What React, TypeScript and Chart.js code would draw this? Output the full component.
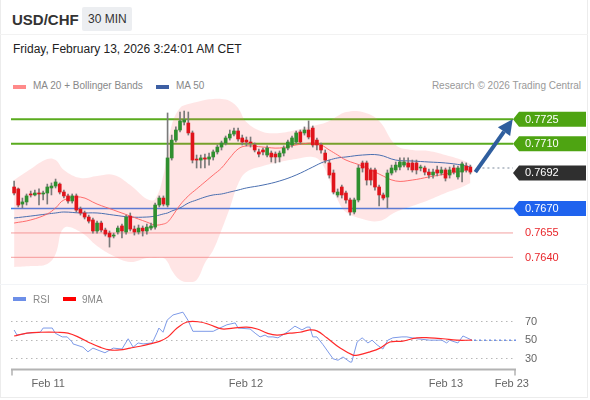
import React, { useEffect, useRef } from "react";
import { Chart, registerables } from "chart.js";

Chart.register(...registerables);

const FONT = "'Liberation Sans', Arial, Helvetica, sans-serif";

// ---- 30-min candles (USD/CHF), index 0 = Feb 10 20:00 ----
const candleOpen = [
  0.76833, 0.76821, 0.76728, 0.76741, 0.7679, 0.76784, 0.76796, 0.7679, 0.76796, 0.76827,
  0.76839, 0.76851, 0.76802, 0.76778, 0.76747, 0.76778, 0.76697, 0.76673, 0.76648, 0.7663,
  0.76562, 0.76611, 0.76568, 0.76549, 0.76531, 0.76556, 0.76593, 0.76556, 0.76654, 0.76574,
  0.76556, 0.7658, 0.76562, 0.7658, 0.76586, 0.76722, 0.76765, 0.76722, 0.77012, 0.77122,
  0.77184, 0.77233, 0.77227, 0.77166, 0.77005, 0.76999, 0.77012, 0.77005, 0.77018, 0.77049,
  0.77079, 0.77104, 0.77135, 0.77159, 0.77178, 0.77135, 0.77122, 0.7711, 0.77092, 0.77049,
  0.77061, 0.7703, 0.77042, 0.77036, 0.77018, 0.77042, 0.77073, 0.77092, 0.7711, 0.77172,
  0.77166, 0.77184, 0.77196, 0.77122, 0.77092, 0.77042, 0.76981, 0.76919, 0.76784, 0.76833,
  0.76796, 0.76753, 0.76679, 0.76753, 0.76981, 0.76981, 0.76938, 0.76938, 0.76833, 0.76784,
  0.76771, 0.76919, 0.76938, 0.76956, 0.76968, 0.76981, 0.76981, 0.76981, 0.7695, 0.7695,
  0.76925, 0.76907, 0.76938, 0.76919, 0.76938, 0.76907, 0.7695, 0.76895, 0.76925, 0.76962,
  0.76956,
];
const candleHigh = [
  0.7687, 0.76827, 0.76765, 0.7679, 0.76808, 0.76814, 0.76821, 0.76808, 0.76851, 0.76858,
  0.76882, 0.76858, 0.76814, 0.7679, 0.7679, 0.7679, 0.7671, 0.76685, 0.7666, 0.76642,
  0.76623, 0.76623, 0.7658, 0.76562, 0.76549, 0.76593, 0.76605, 0.7666, 0.76673, 0.76593,
  0.76599, 0.76593, 0.76605, 0.76611, 0.76734, 0.76778, 0.76778, 0.77289, 0.77153, 0.77203,
  0.77295, 0.77301, 0.77295, 0.77178, 0.7703, 0.7703, 0.77036, 0.77042, 0.77061, 0.77092,
  0.77116, 0.77147, 0.77184, 0.77196, 0.77196, 0.77153, 0.77141, 0.77141, 0.77104, 0.77067,
  0.77073, 0.77086, 0.77055, 0.77049, 0.77055, 0.77086, 0.77122, 0.77147, 0.77178, 0.77184,
  0.77203, 0.7724, 0.77209, 0.77135, 0.77104, 0.77061, 0.76999, 0.76938, 0.76821, 0.76845,
  0.76808, 0.76765, 0.76765, 0.76968, 0.76993, 0.76993, 0.7695, 0.7695, 0.76845, 0.76796,
  0.76938, 0.76968, 0.76987, 0.77012, 0.77012, 0.77012, 0.76999, 0.76999, 0.76968, 0.76962,
  0.76944, 0.76944, 0.76962, 0.76956, 0.7695, 0.76956, 0.76968, 0.76962, 0.76987, 0.76981,
  0.76968,
];
const candleLow = [
  0.76784, 0.7671, 0.76704, 0.76722, 0.76771, 0.76778, 0.76722, 0.76753, 0.76728, 0.76784,
  0.76827, 0.7679, 0.76765, 0.76734, 0.76734, 0.76679, 0.7666, 0.76636, 0.76611, 0.76549,
  0.76549, 0.76556, 0.76531, 0.76463, 0.76519, 0.76543, 0.76519, 0.76543, 0.76562, 0.76537,
  0.76543, 0.76531, 0.76543, 0.76568, 0.76574, 0.7671, 0.76716, 0.7671, 0.76999, 0.7711,
  0.77172, 0.77215, 0.77153, 0.76981, 0.7695, 0.7695, 0.7695, 0.76968, 0.76999, 0.77036,
  0.77061, 0.77092, 0.77122, 0.77147, 0.77116, 0.77092, 0.77086, 0.77079, 0.77049, 0.77018,
  0.7703, 0.77018, 0.76987, 0.76981, 0.76987, 0.77024, 0.77061, 0.77079, 0.77098, 0.77098,
  0.77153, 0.77129, 0.77079, 0.77061, 0.77042, 0.76981, 0.76888, 0.7679, 0.76771, 0.76765,
  0.76734, 0.7666, 0.76667, 0.76741, 0.76925, 0.76845, 0.76845, 0.76814, 0.76716, 0.76753,
  0.76704, 0.76907, 0.76925, 0.76938, 0.76956, 0.76938, 0.76925, 0.76913, 0.76932, 0.76907,
  0.76888, 0.76888, 0.76901, 0.76907, 0.7687, 0.76888, 0.76913, 0.76882, 0.76864, 0.76925,
  0.76913,
];
const candleClose = [
  0.76796, 0.76722, 0.76741, 0.76778, 0.76784, 0.76796, 0.7679, 0.76796, 0.76833, 0.76839,
  0.76864, 0.76802, 0.76778, 0.76747, 0.76778, 0.76691, 0.76673, 0.76648, 0.76623, 0.76562,
  0.76611, 0.76568, 0.76543, 0.76525, 0.76537, 0.7658, 0.76562, 0.76648, 0.76574, 0.76556,
  0.7658, 0.76562, 0.76586, 0.76593, 0.76722, 0.76765, 0.76728, 0.77012, 0.77122, 0.77184,
  0.7724, 0.77246, 0.77166, 0.76999, 0.76999, 0.77012, 0.77005, 0.77018, 0.77049, 0.77079,
  0.77104, 0.77135, 0.77159, 0.77178, 0.77129, 0.7711, 0.7711, 0.77104, 0.77061, 0.77036,
  0.77049, 0.77073, 0.77018, 0.77018, 0.77042, 0.77073, 0.7711, 0.77135, 0.77166, 0.7711,
  0.77184, 0.77141, 0.77092, 0.77092, 0.77061, 0.76999, 0.76907, 0.76802, 0.76802, 0.76784,
  0.76753, 0.76679, 0.76753, 0.7695, 0.7695, 0.76876, 0.76876, 0.76833, 0.76784, 0.76765,
  0.76919, 0.7695, 0.76968, 0.76987, 0.76987, 0.76956, 0.76938, 0.76938, 0.7695, 0.76925,
  0.76907, 0.76925, 0.76919, 0.76938, 0.76888, 0.76938, 0.76925, 0.7695, 0.76975, 0.76938,
  0.76925,
];

// ---- indicators (read at these candle positions) ----
const bandIndex = [0, 4, 8, 10, 12, 16, 20, 24, 28, 32, 34, 36, 37, 38, 40, 42, 44, 46, 48, 50, 52, 54, 56, 60, 64, 68, 72, 74, 76, 78, 80, 84, 88, 92, 96, 100, 104, 108, 110];
const bandUpper = [
  0.76876, 0.76944, 0.77005, 0.76999, 0.76938, 0.76888, 0.76901, 0.76907, 0.76845, 0.76759,
  0.76759, 0.76907, 0.77061, 0.77215, 0.7732, 0.77344, 0.77357, 0.77369, 0.77375, 0.77375,
  0.77363, 0.7732, 0.77233, 0.77172, 0.77166, 0.77184, 0.77209, 0.77221, 0.7724, 0.7727,
  0.77295, 0.77295, 0.7724, 0.77092, 0.77061, 0.77055, 0.7703, 0.76999, 0.76975,
];
const bandLower = [
  0.7634, 0.76346, 0.76359, 0.7642, 0.7658, 0.76556, 0.7647, 0.76408, 0.76371, 0.76396,
  0.76396, 0.76396, 0.76371, 0.76321, 0.7626, 0.76248, 0.7626, 0.76365, 0.76445, 0.76568,
  0.76704, 0.76851, 0.76925, 0.76962, 0.76987, 0.77005, 0.77018, 0.76987, 0.76876, 0.76753,
  0.76679, 0.76636, 0.76623, 0.76679, 0.76716, 0.76753, 0.76796, 0.76833, 0.76858,
];
const ma20 = [
  0.76611, 0.7663, 0.76667, 0.76704, 0.76753, 0.76771, 0.76728, 0.76691, 0.76654, 0.76617,
  0.76599, 0.76605, 0.76617, 0.76648, 0.76722, 0.76778, 0.76821, 0.76864, 0.76907, 0.7695,
  0.77012, 0.77067, 0.77086, 0.77079, 0.77073, 0.77092, 0.77104, 0.77092, 0.77061, 0.7703,
  0.76999, 0.76962, 0.76913, 0.7687, 0.76876, 0.76895, 0.76913, 0.76932, 0.76938,
];
const ma50 = [
  0.76642, 0.76654, 0.76667, 0.76673, 0.76679, 0.76673, 0.76673, 0.7666, 0.76648, 0.76648,
  0.76654, 0.76667, 0.76673, 0.76685, 0.76704, 0.76734, 0.76753, 0.76771, 0.76784, 0.7679,
  0.76802, 0.76814, 0.76827, 0.76845, 0.7687, 0.76907, 0.76956, 0.76981, 0.76999, 0.77012,
  0.77018, 0.7703, 0.7703, 0.76999, 0.76993, 0.76987, 0.76981, 0.76968, 0.76956,
];

// ---- RSI panel ----
const rsiIndex = [0, 0.7, 2.2, 3.1, 6.3, 7, 9.2, 9.9, 11.6, 12.8, 14, 14.2, 16.6, 17.8, 19, 20.7, 21.9, 23.9, 26, 27.5, 28.7, 29.9, 31.1, 33.3, 34.5, 34.9, 35.9, 36.9, 38.3, 40.7, 41.9, 43.1, 48, 49.6, 51.3, 53.3, 54, 56.9, 58.1, 59.3, 60.5, 61.2, 62.4, 63.6, 65.8, 67.7, 69.4, 70.6, 71.3, 72, 73, 74.5, 76.9, 78.1, 79.3, 81, 81.4, 82.7, 83.9, 85.3, 86.3, 87.5, 88.9, 90.1, 91.3, 93.5, 94.7, 97.1, 100.2, 103.1, 104.3, 105, 107, 108.2, 110.4];
const rsiValue = [60.4, 55, 56, 57, 58, 62.5, 62.5, 57, 53, 53, 47.5, 45.5, 42, 37, 41, 38, 36, 41, 40, 51, 42, 46.5, 45.5, 46.5, 58, 62.5, 58, 71, 76.5, 79.5, 71, 59, 59, 62.5, 66, 68, 62.5, 61.5, 57, 53, 55, 53, 53, 52, 58, 64.5, 60.5, 63.5, 63.5, 53, 53, 44.5, 29.5, 28, 31.5, 26, 26, 47.5, 52, 46.5, 49.5, 44.5, 40, 49.5, 52, 53, 53, 51, 49.5, 49.5, 46.5, 49.5, 46.5, 54, 49.5];
const rsiMaIndex = [0, 3.1, 6.3, 10.4, 13, 15.9, 18.3, 20.7, 23.1, 25.5, 28, 30.4, 32.8, 35.2, 37.1, 39.3, 41.7, 44.8, 47.2, 50.1, 52.8, 56.1, 58.6, 61, 63.4, 66.5, 68.9, 71.3, 73, 75.4, 78.6, 81.7, 82.9, 85.8, 88.2, 90.6, 93.7, 97.1, 100.2, 103.4, 106.7, 110.4];
const rsiMaValue = [54, 57, 58, 58, 57, 52, 46.5, 42, 39, 39, 41, 43, 45.5, 48.5, 53, 62.5, 69, 69, 66, 61.5, 62.5, 63.5, 61.5, 57, 55, 57, 58, 60.5, 59.5, 52, 41, 33.5, 33.5, 37, 41, 47.5, 48.5, 52, 52, 51, 49.5, 49.5];
const rsiGrid = [70, 50, 30];

// ---- levels / annotations ----
const levelValues = [0.7725, 0.771, 0.7692, 0.767, 0.7655, 0.764];
const levelLabels = ["0.7725", "0.7710", "0.7692", "0.7670", "0.7655", "0.7640"];
const levelKinds = ["resistance", "resistance", "last", "pivot", "support", "support"];
const lastPrice = 0.7695;
const arrowFrom = { index: 111.2, price: 0.76925 };
const arrowTo = { index: 120.2, price: 0.7725 };

// ---- x axis ----
const xTickIndex = [8.2, 55.9, 104.1, 120];
const xTickLabels = ["Feb 11", "Feb 12", "Feb 13", "Feb 23"];

const X_MIN = -0.75;
const X_MAX = 121;

const GREEN = "#2f8f2f";
const RED = "#e0141b";

function drawTag(ctx: CanvasRenderingContext2D, tipX: number, right: number, yc: number, color: string, text: string) {
  const h = 7.5;
  ctx.save();
  ctx.fillStyle = color;
  ctx.beginPath();
  ctx.moveTo(tipX, yc);
  ctx.lineTo(tipX + 6, yc - h);
  ctx.lineTo(right, yc - h);
  ctx.lineTo(right, yc + h);
  ctx.lineTo(tipX + 6, yc + h);
  ctx.closePath();
  ctx.fill();
  ctx.fillStyle = "#ffffff";
  ctx.font = `11px ${FONT}`;
  ctx.textBaseline = "middle";
  ctx.textAlign = "left";
  ctx.fillText(text, tipX + 12, yc + 0.5);
  ctx.restore();
}

const pricePlugin = {
  id: "priceDecor",
  beforeDatasetsDraw(chart: any) {
    const { ctx, chartArea, scales } = chart;
    const y = scales.y;
    const x0 = chartArea.left;
    const x1 = chartArea.right - 3;
    levelValues.forEach((v, k) => {
      const kind = levelKinds[k];
      if (kind === "last") return;
      const py = y.getPixelForValue(v);
      ctx.save();
      if (kind === "resistance") {
        ctx.strokeStyle = "#5aab1e";
        ctx.lineWidth = 2;
      } else if (kind === "pivot") {
        ctx.strokeStyle = "#3b7de8";
        ctx.lineWidth = 1.5;
      } else {
        ctx.strokeStyle = "#f3a0a0";
        ctx.lineWidth = 1;
      }
      ctx.beginPath();
      ctx.moveTo(x0, py);
      ctx.lineTo(x1, py);
      ctx.stroke();
      ctx.restore();
    });
  },
  afterDatasetsDraw(chart: any) {
    const { ctx, chartArea, scales } = chart;
    const x = scales.x;
    const y = scales.y;
    const tipX = chartArea.right - 3;
    const right = chart.width - 4;

    // dotted current price
    const lp = y.getPixelForValue(lastPrice);
    ctx.save();
    ctx.strokeStyle = "#7d8a9c";
    ctx.lineWidth = 1.2;
    ctx.setLineDash([2, 3]);
    ctx.beginPath();
    ctx.moveTo(x.getPixelForValue(candleClose.length + 0.7), lp);
    ctx.lineTo(tipX, lp);
    ctx.stroke();
    ctx.restore();

    // arrow
    const ax0 = x.getPixelForValue(arrowFrom.index);
    const ay0 = y.getPixelForValue(arrowFrom.price);
    const ax1 = x.getPixelForValue(arrowTo.index);
    const ay1 = y.getPixelForValue(arrowTo.price);
    const ang = Math.atan2(ay1 - ay0, ax1 - ax0);
    const headLen = 15;
    const headW = 7.5;
    const bx = ax1 - headLen * Math.cos(ang);
    const by = ay1 - headLen * Math.sin(ang);
    ctx.save();
    ctx.strokeStyle = "#2f5e9e";
    ctx.fillStyle = "#2f5e9e";
    ctx.lineWidth = 4;
    ctx.lineCap = "butt";
    ctx.beginPath();
    ctx.moveTo(ax0, ay0);
    ctx.lineTo(bx, by);
    ctx.stroke();
    ctx.beginPath();
    ctx.moveTo(ax1, ay1);
    ctx.lineTo(bx + headW * Math.sin(ang), by - headW * Math.cos(ang));
    ctx.lineTo(bx - headW * Math.sin(ang), by + headW * Math.cos(ang));
    ctx.closePath();
    ctx.fill();
    ctx.restore();

    // tags and labels
    levelValues.forEach((v, k) => {
      const kind = levelKinds[k];
      const py = y.getPixelForValue(v);
      if (kind === "resistance") drawTag(ctx, tipX, right, py, "#4ea412", levelLabels[k]);
      else if (kind === "last") drawTag(ctx, tipX, right, py, "#2f2f2f", levelLabels[k]);
      else if (kind === "pivot") drawTag(ctx, tipX, right, py, "#1f63ee", levelLabels[k]);
      else {
        ctx.save();
        ctx.fillStyle = "#e8262b";
        ctx.font = `11px ${FONT}`;
        ctx.textBaseline = "middle";
        ctx.textAlign = "left";
        ctx.fillText(levelLabels[k], tipX + 12, py + 0.5);
        ctx.restore();
      }
    });
  },
};

const rsiPlugin = {
  id: "rsiDecor",
  beforeDatasetsDraw(chart: any) {
    const { ctx, chartArea, scales } = chart;
    const y = scales.y;
    ctx.save();
    ctx.strokeStyle = "#b8b8b8";
    ctx.lineWidth = 1;
    ctx.setLineDash([1.5, 3.5]);
    rsiGrid.forEach((g) => {
      const py = Math.round(y.getPixelForValue(g)) + 0.5;
      ctx.beginPath();
      ctx.moveTo(chartArea.left, py);
      ctx.lineTo(chartArea.right, py);
      ctx.stroke();
    });
    ctx.setLineDash([]);
    ctx.fillStyle = "#666";
    ctx.font = `11px ${FONT}`;
    ctx.textBaseline = "middle";
    ctx.textAlign = "left";
    rsiGrid.forEach((g) => {
      ctx.fillText(String(g), chartArea.right + 9, y.getPixelForValue(g) + 0.5);
    });
    ctx.restore();
  },
  afterDatasetsDraw(chart: any) {
    const { ctx, chartArea, scales } = chart;
    const x = scales.x;
    const y = scales.y;
    // dotted extension of RSI
    const lastI = rsiIndex[rsiIndex.length - 1];
    const lastV = rsiValue[rsiValue.length - 1];
    ctx.save();
    ctx.strokeStyle = "#6f8fe6";
    ctx.lineWidth = 1.5;
    ctx.setLineDash([2, 3]);
    ctx.beginPath();
    ctx.moveTo(x.getPixelForValue(lastI) + 2, y.getPixelForValue(lastV));
    ctx.lineTo(chartArea.right, y.getPixelForValue(lastV));
    ctx.stroke();
    ctx.restore();

    // x axis
    const ay = chartArea.bottom - 0.5;
    ctx.save();
    ctx.strokeStyle = "#b3b3b3";
    ctx.lineWidth = 2;
    ctx.beginPath();
    ctx.moveTo(chartArea.left, ay);
    ctx.lineTo(chartArea.right, ay);
    ctx.stroke();
    ctx.lineWidth = 1.5;
    ctx.beginPath();
    ctx.moveTo(chartArea.left + 1, ay);
    ctx.lineTo(chartArea.left + 1, ay + 6);
    ctx.moveTo(chartArea.right - 1, ay);
    ctx.lineTo(chartArea.right - 1, ay + 6);
    ctx.stroke();
    ctx.fillStyle = "#666";
    ctx.font = `11px ${FONT}`;
    ctx.textAlign = "center";
    ctx.textBaseline = "alphabetic";
    xTickIndex.forEach((t, k) => {
      ctx.fillText(xTickLabels[k], x.getPixelForValue(t), ay + 17.5);
    });
    ctx.restore();
  },
};

function Txt(props: { x: number; base: number; size: number; color: string; bold?: boolean; right?: boolean; children: any }) {
  const top = props.base - 0.8465 * props.size;
  const style: any = {
    position: "absolute",
    top,
    fontSize: props.size,
    lineHeight: `${props.size}px`,
    color: props.color,
    fontWeight: props.bold ? 700 : 400,
    whiteSpace: "nowrap",
  };
  if (props.right) style.right = 590 - props.x;
  else style.left = props.x;
  return <div style={style}>{props.children}</div>;
}

function Swatch(props: { x: number; y: number; color: string }) {
  return <div style={{ position: "absolute", left: props.x, top: props.y, width: 13, height: 4, background: props.color }} />;
}

export default function App() {
  const priceRef = useRef<HTMLCanvasElement>(null);
  const rsiRef = useRef<HTMLCanvasElement>(null);

  useEffect(() => {
    const idx = candleOpen.map((_, i) => i);
    const wickData = idx.map((i) => ({ x: i, y: [candleLow[i], candleHigh[i]] }));
    const bodyData = idx.map((i) => ({ x: i, y: [candleOpen[i], candleClose[i]] }));
    const bodyColors = idx.map((i) => (candleClose[i] >= candleOpen[i] ? GREEN : RED));

    const priceChart = new Chart(priceRef.current as HTMLCanvasElement, {
      type: "bar",
      data: {
        datasets: [
          {
            type: "line",
            label: "BB upper",
            data: bandIndex.map((x, k) => ({ x, y: bandUpper[k] })),
            borderColor: "rgba(0,0,0,0)",
            borderWidth: 0,
            pointRadius: 0,
            tension: 0.4,
            fill: "+1",
            backgroundColor: "rgba(255,110,110,0.18)",
            order: 10,
          },
          {
            type: "line",
            label: "BB lower",
            data: bandIndex.map((x, k) => ({ x, y: bandLower[k] })),
            borderColor: "rgba(0,0,0,0)",
            borderWidth: 0,
            pointRadius: 0,
            tension: 0.4,
            fill: false,
            order: 9,
          },
          {
            type: "line",
            label: "MA 50",
            data: bandIndex.map((x, k) => ({ x, y: ma50[k] })),
            borderColor: "#4a6fb0",
            borderWidth: 1,
            pointRadius: 0,
            tension: 0.4,
            fill: false,
            order: 8,
          },
          {
            type: "line",
            label: "MA 20",
            data: bandIndex.map((x, k) => ({ x, y: ma20[k] })),
            borderColor: "rgba(255,95,95,0.9)",
            borderWidth: 1,
            pointRadius: 0,
            tension: 0.4,
            fill: false,
            order: 7,
          },
          {
            type: "bar",
            label: "wick",
            data: wickData as any,
            backgroundColor: "#7a7a7a",
            barThickness: 1,
            grouped: false,
            order: 2,
          } as any,
          {
            type: "bar",
            label: "body",
            data: bodyData as any,
            backgroundColor: bodyColors,
            barThickness: 3,
            minBarLength: 1,
            grouped: false,
            order: 1,
          } as any,
        ],
      },
      options: {
        animation: false,
        responsive: false,
        devicePixelRatio: 1,
        events: [],
        layout: { padding: { left: 11, right: 74, top: 0, bottom: 0 } },
        plugins: { legend: { display: false }, tooltip: { enabled: false } },
        scales: {
          x: { type: "linear", min: X_MIN, max: X_MAX, offset: false, display: false },
          y: { type: "linear", min: 0.761986, max: 0.773997, display: false },
        },
      },
      plugins: [pricePlugin],
    } as any);

    const rsiChart = new Chart(rsiRef.current as HTMLCanvasElement, {
      type: "line",
      data: {
        datasets: [
          {
            label: "9MA",
            data: rsiMaIndex.map((x, k) => ({ x, y: rsiMaValue[k] })),
            borderColor: "#ff2a2a",
            borderWidth: 1.2,
            pointRadius: 0,
            tension: 0.4,
            fill: false,
          },
          {
            label: "RSI",
            data: rsiIndex.map((x, k) => ({ x, y: rsiValue[k] })),
            borderColor: "#7d9ae8",
            borderWidth: 1,
            pointRadius: 0,
            tension: 0,
            fill: false,
          },
        ],
      },
      options: {
        animation: false,
        responsive: false,
        devicePixelRatio: 1,
        events: [],
        layout: { padding: { left: 11, right: 74, top: 0, bottom: 30 } },
        plugins: { legend: { display: false }, tooltip: { enabled: false } },
        scales: {
          x: { type: "linear", min: X_MIN, max: X_MAX, offset: false, display: false },
          y: { type: "linear", min: 17.52, max: 103.27, display: false },
        },
      },
      plugins: [rsiPlugin],
    } as any);

    return () => {
      priceChart.destroy();
      rsiChart.destroy();
    };
  }, []);

  return (
    <div
      style={{
        position: "fixed",
        left: 0,
        top: 0,
        width: 590,
        height: 400,
        background: "#fff",
        overflow: "hidden",
        fontFamily: FONT,
      }}
    >
      {/* frame lines */}
      <div style={{ position: "absolute", left: 0, top: 0, width: 1, height: 398, background: "#ececec" }} />
      <div style={{ position: "absolute", left: 587, top: 0, width: 1, height: 398, background: "#ececec" }} />
      <div style={{ position: "absolute", left: 0, top: 397, width: 588, height: 1, background: "#ececec" }} />
      <div style={{ position: "absolute", left: 0, top: 34, width: 588, height: 1, background: "#f2f2f2" }} />
      <div style={{ position: "absolute", left: 0, top: 284, width: 588, height: 1, background: "#f2f4f7" }} />

      <Txt x={12} base={25} size={15} color="#333" bold>
        USD/CHF
      </Txt>
      <div
        style={{
          position: "absolute",
          left: 82,
          top: 7,
          width: 50,
          height: 24,
          background: "#eceef1",
          borderRadius: 2,
        }}
      />
      <Txt x={88} base={23.5} size={12} color="#333">
        30 MIN
      </Txt>
      <Txt x={13} base={53} size={12} color="#222">
        Friday, February 13, 2026 3:24:01 AM CET
      </Txt>

      <Swatch x={13} y={84.5} color="#ff8a8a" />
      <Txt x={33} base={89.5} size={10} color="#888">
        MA 20 + Bollinger Bands
      </Txt>
      <Swatch x={156} y={84.5} color="#3d5fa3" />
      <Txt x={176} base={89.5} size={10} color="#888">
        MA 50
      </Txt>
      <Txt x={581} base={89.5} size={10} color="#999" right>
        Research © 2026 Trading Central
      </Txt>

      <canvas
        ref={priceRef}
        width={590}
        height={195}
        style={{ position: "absolute", left: 0, top: 95, width: 590, height: 195, display: "block" }}
      />
      <canvas
        ref={rsiRef}
        width={590}
        height={110}
        style={{ position: "absolute", left: 0, top: 290, width: 590, height: 110, display: "block" }}
      />

      <Swatch x={13} y={297} color="#6d8fe8" />
      <Txt x={33} base={303} size={10} color="#888">
        RSI
      </Txt>
      <Swatch x={63} y={297} color="#ff0000" />
      <Txt x={82} base={303} size={10} color="#888">
        9MA
      </Txt>
    </div>
  );
}
